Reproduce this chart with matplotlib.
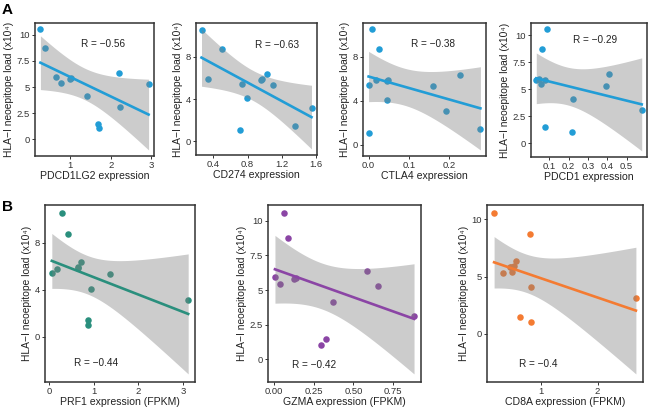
import numpy as np
import matplotlib
matplotlib.use("Agg")
import matplotlib.pyplot as plt

plt.rcParams['font.family'] = ['Liberation Sans', 'DejaVu Sans']

# neoepitope load per patient (x10^4), shared by all panels
load = [10.55, 8.72, 6.37, 5.93, 5.87, 5.80, 5.43, 5.32, 4.11, 3.10, 1.45, 1.04]

pdcd1lg2 = [0.26, 0.37, 2.19, 0.64, 1.01, 0.98, 0.78, 2.93, 1.42, 2.22, 1.68, 1.70]
cd274 = [0.263, 0.502, 1.02, 0.344, 0.97, 0.961, 0.73, 1.10, 0.79, 1.544, 1.355, 0.714]
ctla4 = [0.0075, 0.025, 0.228, 0.0175, 0.048, 0.045, 0.0, 0.159, 0.047, 0.192, 0.278, 0.0]
pdcd1 = [0.087, 0.06, 0.41, 0.044, 0.075, 0.032, 0.056, 0.391, 0.224, 0.578, 0.078, 0.219]
prf1 = [0.30, 0.42, 0.72, 0.65, 0.66, 0.17, 0.065, 1.36, 0.95, 3.11, 0.88, 0.87]
gzma = [0.0625, 0.0875, 0.583, 0.008, 0.14, 0.13, 0.04, 0.652, 0.37, 0.88, 0.327, 0.296]
cd8a = [0.16, 0.79, 0.555, 0.51, 0.44, 0.46, 0.48, 0.31, 0.81, 2.68, 0.62, 0.81]

r_labels = ["R = \u22120.56", "R = \u22120.63", "R = \u22120.38", "R = \u22120.29",
            "R = \u22120.44", "R = \u22120.42", "R = \u22120.4"]

BLUE = "#229dd6"
TEAL = "#2a8f7d"
PURPLE = "#8b45a5"
ORANGE = "#f47b32"

W, H = 649, 407
YLABEL = "HLA\u2212I neoepitope load (x10\u2074)"


def px_axes(fig, left, right, top, bottom):
    return fig.add_axes([left / W, (H - bottom) / H, (right - left) / W, (bottom - top) / H])


def reg_panel(ax, x, y, color, xlabel, xticks, xticklabels, yticks, yticklabels, rtext, rpos):
    x = np.asarray(x, float)
    y = np.asarray(y, float)
    n = len(x)
    slope, icpt = np.polyfit(x, y, 1)
    xs = np.linspace(x.min(), x.max(), 100)
    fit = slope * xs + icpt
    resid = y - (slope * x + icpt)
    s = np.sqrt(np.sum(resid ** 2) / (n - 2))
    sxx = np.sum((x - x.mean()) ** 2)
    t = 2.228  # t(0.975, df=10)
    se = s * np.sqrt(1.0 / n + (xs - x.mean()) ** 2 / sxx)

    ax.scatter(x, y, s=22, color=color, linewidths=0, zorder=2)
    ax.fill_between(xs, fit - t * se, fit + t * se, color="#808080", alpha=0.4,
                    linewidth=0, zorder=3)
    ax.plot(xs, fit, color=color, lw=1.9, zorder=4)

    ax.set_xticks(xticks)
    ax.set_xticklabels(xticklabels)
    ax.set_yticks(yticks)
    ax.set_yticklabels(yticklabels)
    ax.set_xlabel(xlabel, fontsize=7.6, labelpad=0.5, color="#222222")
    ax.set_ylabel(YLABEL, fontsize=7.4, labelpad=2, color="#222222")
    ax.tick_params(labelsize=6.8, length=2.5, width=0.7, pad=1.2, colors="#333333",
                   labelcolor="#333333")
    for sp in ax.spines.values():
        sp.set_linewidth(1.1)
        sp.set_color("#333333")
    ax.text(rpos[0], rpos[1], rtext, transform=ax.transAxes, ha="center", va="center",
            fontsize=7.2, color="#222222", zorder=5)


fig = plt.figure(figsize=(W / 100, H / 100), dpi=100)

ax = px_axes(fig, 35, 154, 23, 156)
reg_panel(ax, pdcd1lg2, load, BLUE, "PDCD1LG2 expression", [1, 2, 3], ["1", "2", "3"],
          [0, 2.5, 5, 7.5, 10], ["0", "2.5", "5", "7.5", "10"], r_labels[0], (0.57, 0.84))

ax = px_axes(fig, 196, 317, 23, 155)
reg_panel(ax, cd274, load, BLUE, "CD274 expression", [0.4, 0.8, 1.2, 1.6],
          ["0.4", "0.8", "1.2", "1.6"], [0, 4, 8], ["0", "4", "8"], r_labels[1], (0.67, 0.83))

ax = px_axes(fig, 363, 486, 23, 156)
reg_panel(ax, ctla4, load, BLUE, "CTLA4 expression", [0.0, 0.1, 0.2], ["0.0", "0.1", "0.2"],
          [0, 4, 8], ["0", "4", "8"], r_labels[2], (0.57, 0.84))

ax = px_axes(fig, 531, 647, 23, 157)
reg_panel(ax, pdcd1, load, BLUE, "PDCD1 expression", [0.1, 0.2, 0.3, 0.4, 0.5],
          ["0.1", "0.2", "0.3", "0.4", "0.5"], [0, 2.5, 5, 7.5, 10],
          ["0", "2.5", "5", "7.5", "10"], r_labels[3], (0.55, 0.87))

ax = px_axes(fig, 45, 195, 205, 382)
reg_panel(ax, prf1, load, TEAL, "PRF1 expression (FPKM)", [0, 1, 2, 3], ["0", "1", "2", "3"],
          [0, 4, 8], ["0", "4", "8"], r_labels[4], (0.34, 0.105))

ax = px_axes(fig, 268, 421, 205, 382)
reg_panel(ax, gzma, load, PURPLE, "GZMA expression (FPKM)", [0, 0.25, 0.5, 0.75],
          ["0.00", "0.25", "0.50", "0.75"], [0, 2.5, 5, 7.5, 10],
          ["0", "2.5", "5", "7.5", "10"], r_labels[5], (0.30, 0.096))

ax = px_axes(fig, 487, 643, 205, 382)
reg_panel(ax, cd8a, load, ORANGE, "CD8A expression (FPKM)", [1, 2], ["1", "2"],
          [0, 5, 10], ["0", "5", "10"], r_labels[6], (0.33, 0.10))

fig.text(2 / W, 1 - 10 / H, "A", fontsize=11, fontweight="bold", va="center", ha="left")
fig.text(2 / W, 1 - 207 / H, "B", fontsize=11, fontweight="bold", va="center", ha="left")

fig.savefig("out.png", dpi=100)
